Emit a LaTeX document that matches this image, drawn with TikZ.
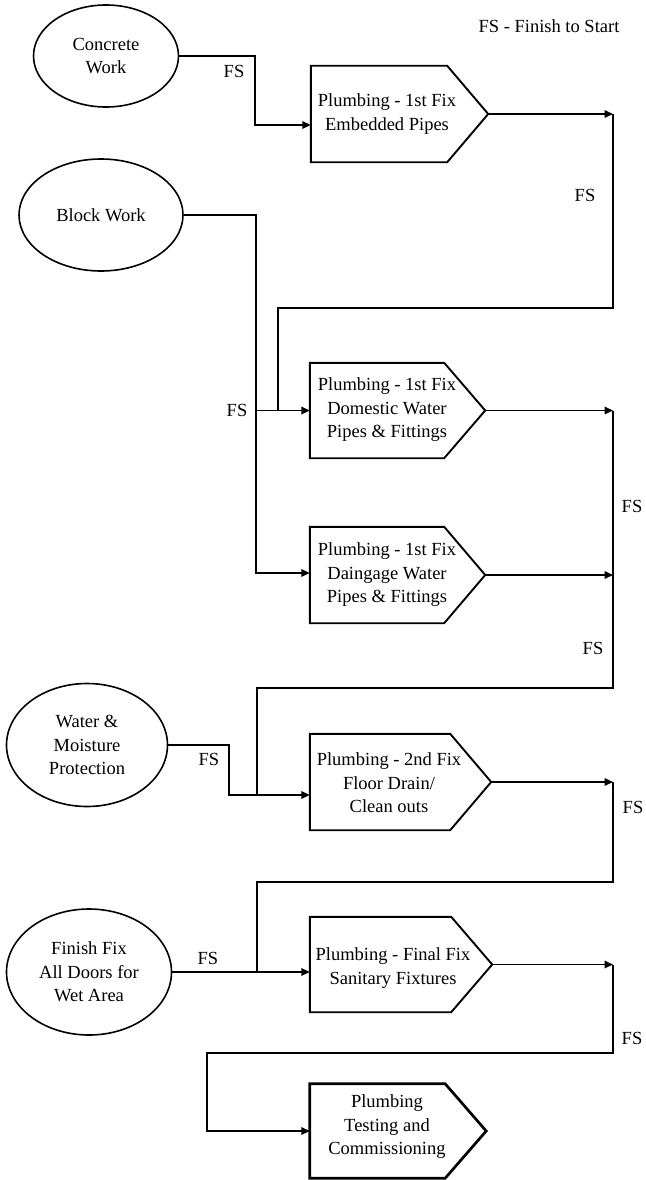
\documentclass[tikz,border=0pt]{standalone}
\usepackage{fontspec}
\setmainfont{Liberation Serif}
\usetikzlibrary{arrows.meta,shapes.geometric}
\begin{document}
\begin{tikzpicture}[x=1pt,y=-1pt,
  lbl/.style={font=\fontsize{18.5}{23.5}\selectfont, inner sep=0pt, align=center},
  ell/.style={ellipse, draw, line width=1.6pt, inner sep=0pt, lbl},
  pbox/.style={rectangle, draw=none, inner sep=0pt},
  boxline/.style={line width=1.9pt, line join=miter},
  conn/.style={line width=1.8pt},
  arr/.style={conn, -{Triangle[length=8.5pt,width=7.5pt]}},
]
\useasboundingbox (0,0) rectangle (645,1180);

\node[lbl] (hdr) at (549,26) {FS - Finish to Start};

% ellipses
\node[ell, minimum width=145pt, minimum height=102pt] (e1) at (106,56) {Concrete\\Work};
\node[ell, minimum width=164pt, minimum height=112pt] (e2) at (101,215) {Block Work};
\node[ell, minimum width=161pt, minimum height=123pt] (e3) at (87,745) {Water \&\\Moisture\\Protection};
\node[ell, minimum width=165pt, minimum height=126pt] (e4) at (89,972) {Finish Fix\\All Doors for\\Wet Area};

% activity boxes
\node[pbox, minimum width=177pt, minimum height=96pt] (b1) at (399.5,114) {};
\node[pbox, minimum width=175pt, minimum height=95pt] (b2) at (397.5,410.5) {};
\node[pbox, minimum width=175pt, minimum height=96pt] (b3) at (397.5,575) {};
\node[pbox, minimum width=181pt, minimum height=96pt] (b4) at (400.5,782) {};
\node[pbox, minimum width=182pt, minimum height=95pt] (b5) at (401,964.5) {};
\node[pbox, minimum width=176pt, minimum height=94pt] (b6) at (398,1131) {};

\foreach \b in {b1,b2,b3,b4,b5}
  \draw[boxline] (\b.south west) -- (\b.north west) -- ([xshift=-41pt]\b.north east)
     -- (\b.east) -- ([xshift=-41pt]\b.south east) -- cycle;
\draw[boxline, line width=2.7pt] (b6.south west) -- (b6.north west) -- ([xshift=-41pt]b6.north east)
     -- (b6.east) -- ([xshift=-41pt]b6.south east) -- cycle;

\node[lbl] (t1) at (387,114) {Plumbing - 1st Fix\\Embedded Pipes};
\node[lbl] (t2) at (387,410) {Plumbing - 1st Fix\\Domestic Water\\Pipes \& Fittings};
\node[lbl] (t3) at (387,575) {Plumbing - 1st Fix\\Daingage Water\\Pipes \& Fittings};
\node[lbl] (t4) at (389,783) {Plumbing - 2nd Fix\\Floor Drain/\\Clean outs};
\node[lbl] (t5) at (393,968) {Plumbing - Final Fix\\Sanitary Fixtures};
\node[lbl] (t6) at (387,1127) {Plumbing\\Testing and\\Commissioning};

% junction coordinates
\coordinate (c1) at (255,125);
\coordinate (r1) at (613,114);
\coordinate (k1) at (278,308);
\coordinate (d2) at (256,410.5);
\coordinate (d3) at (256,573);
\coordinate (r2) at (613,410.5);
\coordinate (r3) at (613,575);
\coordinate (k3) at (257,688);
\coordinate (c4) at (229,795);
\coordinate (r4) at (613,782);
\coordinate (k5) at (257,882);
\coordinate (r5) at (613,964.5);
\coordinate (k6) at (207,1053);

% connectors
\draw[arr] (e1.east) -| (c1) -- (c1 -| b1.west);
\draw[arr] (b1.east) -- (r1);
\draw[conn] (r1) |- (k1) -- (k1 |- d2);
\draw[arr] (e2.east) -| (d3) -- (d3 -| b3.west);
\draw[arr] (d2) -- (d2 -| b2.west);
\draw[arr] (b2.east) -- (r2);
\draw[arr] (b3.east) -- (r3);
\draw[conn] (r2) |- (k3) -- (k3 |- c4);
\draw[arr] (e3.east) -| (c4) -- (c4 -| b4.west);
\draw[arr] (b4.east) -- (r4);
\draw[conn] (r4) |- (k5) -- (k5 |- e4.east);
\draw[arr] (e4.east) -- (e4.east -| b5.west);
\draw[arr] (b5.east) -- (r5);
\draw[arr] (r5) |- (k6) |- (b6.west);

% labels
\node[lbl] (fs1) at (234,71) {FS};
\node[lbl] (fs2) at (585,195) {FS};
\node[lbl] (fs3) at (237,410) {FS};
\node[lbl] (fs4) at (632,506) {FS};
\node[lbl] (fs5) at (593,648) {FS};
\node[lbl] (fs6) at (209,759) {FS};
\node[lbl] (fs7) at (633,807) {FS};
\node[lbl] (fs8) at (208,958) {FS};
\node[lbl] (fs9) at (632,1038) {FS};
\end{tikzpicture}
\end{document}
